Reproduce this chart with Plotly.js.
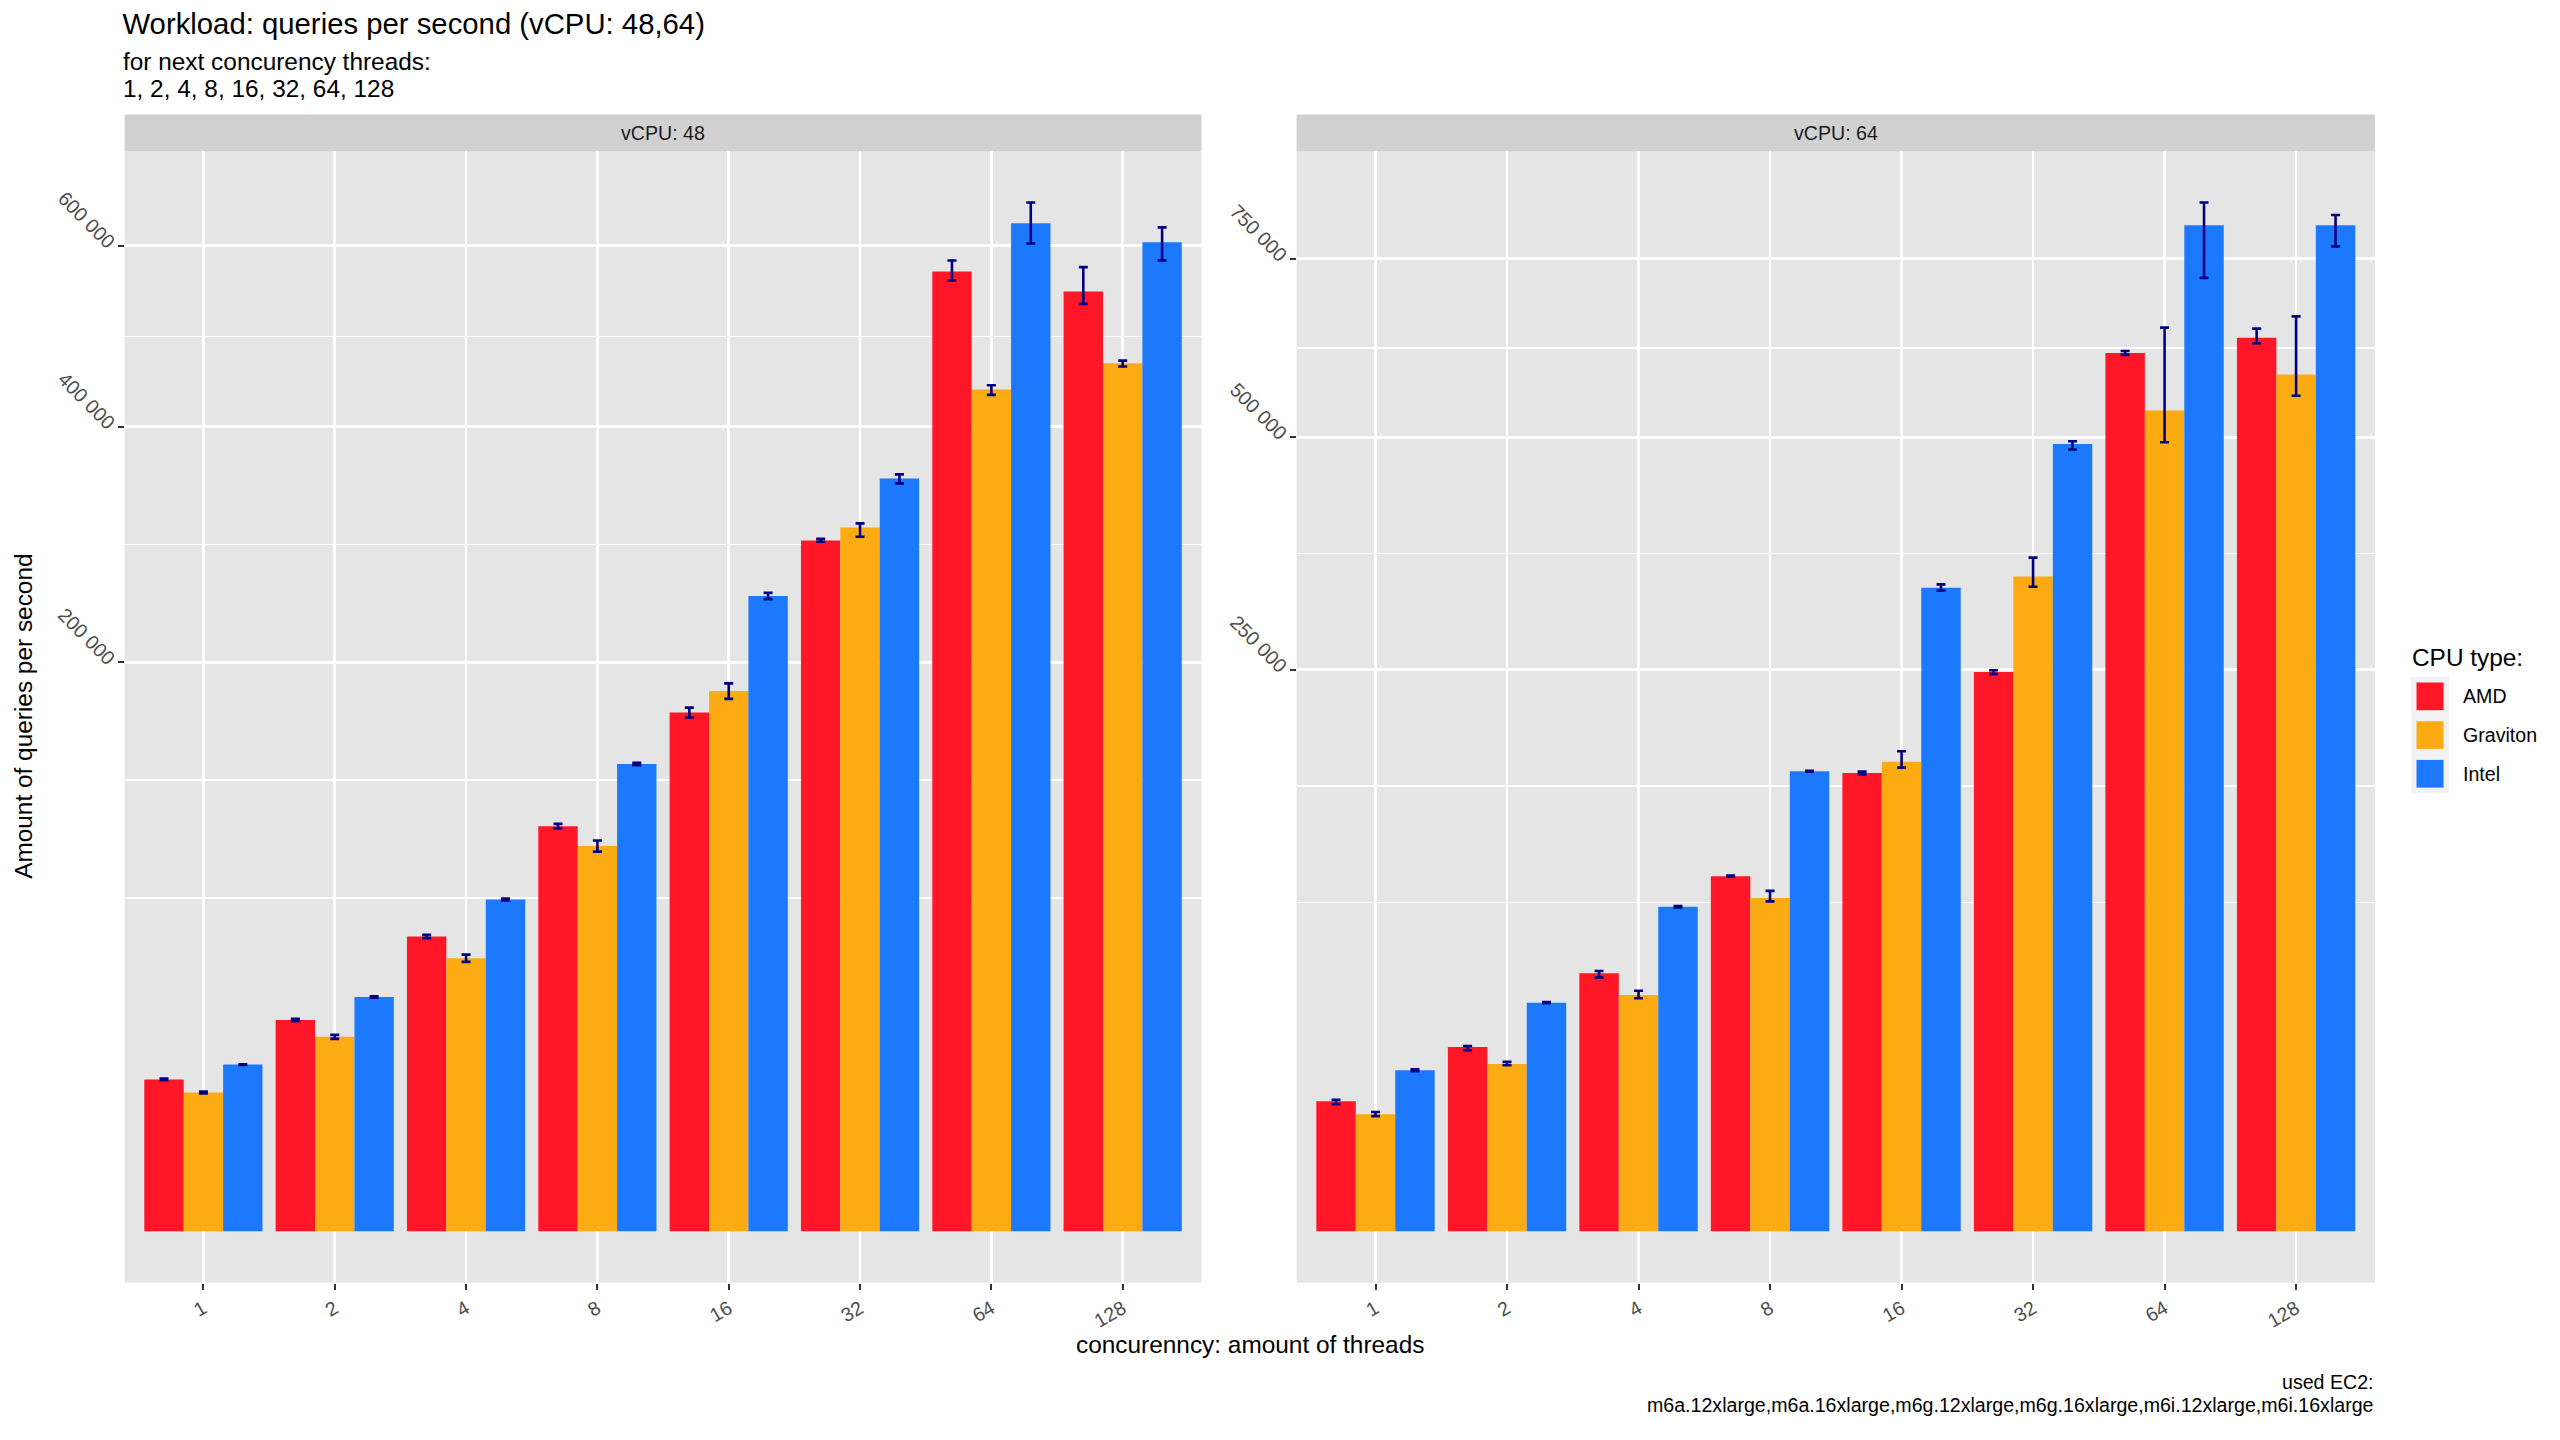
<!DOCTYPE html>
<html>
<head>
<meta charset="utf-8">
<script src="https://cdn.plot.ly/plotly-3.0.1.min.js"></script>
<style>
html,body{margin:0;padding:0;background:#ffffff;}
#chart{width:2560px;height:1440px;}
</style>
</head>
<body>
<div id="chart"></div>
<script>
// ---------------- DATA ----------------
const concurrency = ['1', '2', '4', '8', '16', '32', '64', '128'];
const cpuTypes = ['AMD', 'Graviton', 'Intel'];
const cpuColors = ['#FF1727', '#FDAB12', '#1C79FE'];
const panelLabels = ['vCPU: 48', 'vCPU: 64'];

// vCPU: 48 — mean queries per second and error-bar bounds
const qps48_AMD      = [14230, 27560, 53690, 101380, 166220, 294900, 569200, 545700];
const qps48_AMD_lo   = [14080, 27260, 53080, 100220, 163050, 293760, 558600, 531400];
const qps48_AMD_hi   = [14390, 27860, 54290, 102540, 169420, 296370, 582300, 574300];
const qps48_Grav     = [11910, 23350, 46030, 91710, 180300, 306100, 437700, 465500];
const qps48_Grav_lo  = [11730, 22880, 44830, 89040, 175140, 298010, 432200, 462000];
const qps48_Grav_hi  = [12080, 23820, 47290, 94380, 185500, 309580, 442200, 468400];
const qps48_Intel    = [17160, 33920, 68030, 134900, 249400, 350200, 627900, 604500];
const qps48_Intel_lo = [17080, 33740, 67610, 134240, 246900, 345600, 602900, 582300];
const qps48_Intel_hi = [17240, 34120, 68420, 135580, 251800, 354000, 654000, 622700];

// vCPU: 64
const qps64_AMD      = [13430, 26920, 52800, 100000, 166560, 248000, 612000, 633400];
const qps64_AMD_lo   = [12830, 25980, 51030, 99700, 165500, 246200, 609200, 625500];
const qps64_AMD_hi   = [13720, 27230, 53720, 100300, 167600, 249700, 614700, 646300];
const qps64_Grav     = [10860, 22170, 44240, 88090, 174810, 340100, 534500, 582200];
const qps64_Grav_lo  = [10520, 21870, 43050, 86320, 170500, 329500, 493800, 553700];
const qps64_Grav_hi  = [11270, 22750, 45910, 91930, 182800, 360000, 647700, 663900];
const qps64_Intel    = [20550, 41440, 83530, 167870, 328500, 491700, 802600, 802600];
const qps64_Intel_lo = [20300, 41240, 83230, 167470, 325600, 484700, 721000, 769500];
const qps64_Intel_hi = [20800, 41640, 83830, 168270, 331900, 495000, 839600, 819200];

const yTicks48 = [200000, 400000, 600000];
const yTicks64 = [250000, 500000, 750000];

const titleText = 'Workload: queries per second (vCPU: 48,64)';
const subtitleLines = ['for next concurency threads:', '1, 2, 4, 8, 16, 32, 64, 128'];
const xTitle = 'concurenncy: amount of threads';
const yTitle = 'Amount of queries per second';
const legendTitle = 'CPU type:';
const captionLines = ['used EC2:', 'm6a.12xlarge,m6a.16xlarge,m6g.12xlarge,m6g.16xlarge,m6i.12xlarge,m6i.16xlarge'];

// ---------------- LAYOUT GEOMETRY (pixels) ----------------
const W = 2560, H = 1440;
const FONT = 'Liberation Sans, Arial, Helvetica, sans-serif';
const px = v => v / W;
const py = v => 1 - v / H;
const panelTop = 151, panelBottom = 1282.7;
const stripTop = 114.5;
const panelX = [[124.6, 1201.5], [1296.6, 2375]];
const SMALL = 19.6, BASE = 24.4;

// ---------------- helpers ----------------
const sq = a => a.map(v => Math.sqrt(v));
function errArrays(mean, lo, hi) {
  return {
    plus: mean.map((m, i) => Math.sqrt(hi[i]) - Math.sqrt(m)),
    minus: mean.map((m, i) => Math.sqrt(m) - Math.sqrt(lo[i]))
  };
}
function fmt(v) { return String(v).replace(/\B(?=(\d{3})+(?!\d))/g, ' '); }
function minorBreaks(majorT, lim) {
  const b = majorT.slice();
  const bd = b[1] - b[0];
  if (lim[0] < b[0]) b.unshift(b[0] - bd);
  if (lim[1] > b[b.length - 1]) b.push(b[b.length - 1] + bd);
  const out = [];
  for (let i = 0; i < b.length - 1; i++) out.push(b[i], (b[i] + b[i + 1]) / 2);
  out.push(b[b.length - 1]);
  return out.filter(v => v >= lim[0] && v <= lim[1] && !majorT.some(m => Math.abs(m - v) < 1e-6));
}

const panelData = [
  { mean: [qps48_AMD, qps48_Grav, qps48_Intel],
    lo: [qps48_AMD_lo, qps48_Grav_lo, qps48_Intel_lo],
    hi: [qps48_AMD_hi, qps48_Grav_hi, qps48_Intel_hi], ticks: yTicks48 },
  { mean: [qps64_AMD, qps64_Grav, qps64_Intel],
    lo: [qps64_AMD_lo, qps64_Grav_lo, qps64_Intel_lo],
    hi: [qps64_AMD_hi, qps64_Grav_hi, qps64_Intel_hi], ticks: yTicks64 }
];

const traces = [];
const layout = {
  width: W, height: H,
  margin: { l: 0, r: 0, t: 0, b: 0 },
  paper_bgcolor: '#FFFFFF',
  plot_bgcolor: '#E5E5E5',
  barmode: 'group',
  bargap: 0.1,
  bargroupgap: 0,
  showlegend: false,
  font: { family: FONT, color: '#000000' },
  title: {
    text: titleText,
    font: { family: FONT, size: 29.3, color: '#000000' },
    xref: 'paper', x: px(122.5), xanchor: 'left',
    yref: 'container', y: py(24), yanchor: 'middle'
  },
  shapes: [],
  annotations: []
};

panelData.forEach((pd, p) => {
  const xa = p === 0 ? 'x' : 'x2';
  const ya = p === 0 ? 'y' : 'y2';
  let M = 0;
  cpuTypes.forEach((name, k) => {
    const e = errArrays(pd.mean[k], pd.lo[k], pd.hi[k]);
    pd.hi[k].forEach(v => { M = Math.max(M, Math.sqrt(v)); });
    traces.push({
      type: 'bar',
      name: name,
      x: concurrency,
      y: sq(pd.mean[k]),
      xaxis: xa, yaxis: ya,
      marker: { color: cpuColors[k], line: { width: 0 } },
      error_y: {
        type: 'data', symmetric: false,
        array: e.plus, arrayminus: e.minus,
        color: '#000080', thickness: 2.6, width: 4.5
      },
      hoverinfo: 'x+name',
      showlegend: false
    });
  });
  const lim = [-0.05 * M, 1.05 * M];
  const majorT = pd.ticks.map(v => Math.sqrt(v));
  const suffix = p === 0 ? '' : '2';
  layout['xaxis' + suffix] = {
    domain: [px(panelX[p][0]), px(panelX[p][1])],
    anchor: 'y' + suffix,
    type: 'category',
    categoryorder: 'array', categoryarray: concurrency,
    range: [-0.6, concurrency.length - 0.4],
    showgrid: true, gridcolor: '#FFFFFF', gridwidth: 2.8,
    zeroline: false, showline: false,
    ticks: 'outside', ticklen: 6, tickwidth: 2, tickcolor: '#333333',
    tickangle: -30,
    tickfont: { family: FONT, size: SMALL, color: '#4D4D4D' },
    fixedrange: true
  };
  layout['yaxis' + suffix] = {
    domain: [py(panelBottom), py(panelTop)],
    anchor: 'x' + suffix,
    range: lim,
    tickmode: 'array',
    tickvals: majorT,
    ticktext: pd.ticks.map(fmt),
    showgrid: true, gridcolor: '#FFFFFF', gridwidth: 2.8,
    minor: {
      tickmode: 'array', tickvals: minorBreaks(majorT, lim),
      showgrid: true, gridcolor: '#FFFFFF', gridwidth: 1.4, ticks: ''
    },
    zeroline: false, showline: false,
    ticks: 'outside', ticklen: 6, tickwidth: 2, tickcolor: '#333333',
    tickangle: 45,
    tickfont: { family: FONT, size: SMALL, color: '#4D4D4D' },
    fixedrange: true
  };
  // facet strip
  layout.shapes.push({
    type: 'rect', xref: 'paper', yref: 'paper',
    x0: px(panelX[p][0]), x1: px(panelX[p][1]),
    y0: py(panelTop), y1: py(stripTop),
    fillcolor: '#D1D1D1', line: { width: 0 }, layer: 'below'
  });
  layout.annotations.push({
    xref: 'paper', yref: 'paper',
    x: px((panelX[p][0] + panelX[p][1]) / 2), y: py((panelTop + stripTop) / 2),
    xanchor: 'center', yanchor: 'middle', showarrow: false,
    text: panelLabels[p],
    font: { family: FONT, size: SMALL, color: '#1A1A1A' }
  });
});

// subtitle
subtitleLines.forEach((t, i) => {
  layout.annotations.push({
    xref: 'paper', yref: 'paper', x: px(121), y: py(61.5 + i * 26.5),
    xanchor: 'left', yanchor: 'middle', showarrow: false, text: t,
    font: { family: FONT, size: BASE, color: '#000000' }
  });
});
// axis titles
layout.annotations.push({
  xref: 'paper', yref: 'paper', x: px((panelX[0][0] + panelX[1][1]) / 2), y: py(1344),
  xanchor: 'center', yanchor: 'middle', showarrow: false, text: xTitle,
  font: { family: FONT, size: BASE, color: '#000000' }
});
layout.annotations.push({
  xref: 'paper', yref: 'paper', x: px(24), y: py((panelTop + panelBottom) / 2),
  xanchor: 'center', yanchor: 'middle', showarrow: false, text: yTitle, textangle: -90,
  font: { family: FONT, size: BASE, color: '#000000' }
});
// caption
captionLines.forEach((t, i) => {
  layout.annotations.push({
    xref: 'paper', yref: 'paper', x: px(panelX[1][1] + 1), y: py(1382 + i * 23),
    xanchor: 'right', yanchor: 'middle', showarrow: false, text: t,
    font: { family: FONT, size: SMALL, color: '#000000' }
  });
});
// legend (ggplot-style keys)
const legX = 2411, legKeyTop = 677, keyH = 38.7, keyW = 38, keyInset = 5.5;
layout.annotations.push({
  xref: 'paper', yref: 'paper', x: px(legX - 1), y: py(657),
  xanchor: 'left', yanchor: 'middle', showarrow: false, text: legendTitle,
  font: { family: FONT, size: BASE, color: '#000000' }
});
layout.shapes.push({
  type: 'rect', xref: 'paper', yref: 'paper',
  x0: px(legX), x1: px(legX + keyW),
  y0: py(legKeyTop + keyH * cpuTypes.length), y1: py(legKeyTop),
  fillcolor: '#F2F2F2', line: { width: 0 }
});
cpuTypes.forEach((name, k) => {
  const top = legKeyTop + k * keyH;
  layout.shapes.push({
    type: 'rect', xref: 'paper', yref: 'paper',
    x0: px(legX + keyInset), x1: px(legX + keyW - keyInset),
    y0: py(top + keyH - keyInset), y1: py(top + keyInset),
    fillcolor: cpuColors[k], line: { width: 0 }
  });
  layout.annotations.push({
    xref: 'paper', yref: 'paper', x: px(legX + keyW + 12), y: py(top + keyH / 2),
    xanchor: 'left', yanchor: 'middle', showarrow: false, text: name,
    font: { family: FONT, size: SMALL, color: '#000000' }
  });
});

Plotly.newPlot('chart', traces, layout, { displayModeBar: false, staticPlot: true });
</script>
</body>
</html>
